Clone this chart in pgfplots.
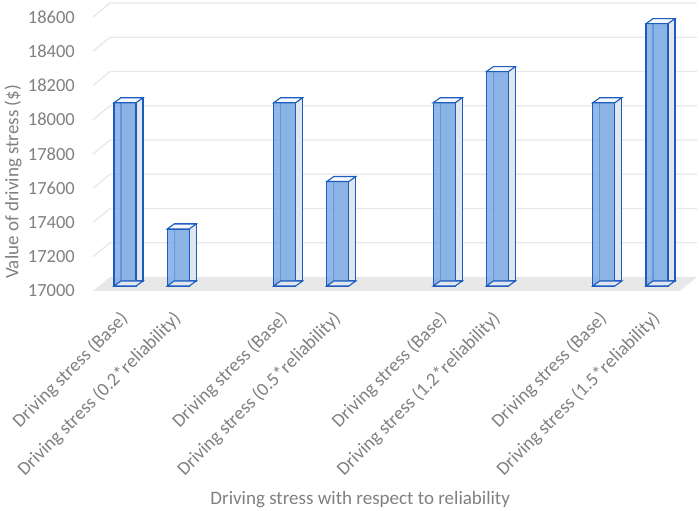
\documentclass[border=0pt]{standalone}
\usepackage{pgfplots}
\pgfplotsset{compat=1.18}
\usepackage{fontspec}
\setmainfont{Carlito}
\definecolor{txtgray}{RGB}{128,128,128}
\definecolor{gridgray}{RGB}{232,232,232}
\definecolor{floorgray}{RGB}{232,232,232}
\definecolor{barblue}{RGB}{118,166,228}
\definecolor{edgeblue}{RGB}{28,92,190}
\definecolor{sidegray}{RGB}{226,231,239}
\definecolor{topwhite}{RGB}{244,247,252}
\pgfdeclareplotmark{topface}{%
  \pgfpathmoveto{\pgfpoint{-11pt}{0pt}}%
  \pgfpathlineto{\pgfpoint{11pt}{0pt}}%
  \pgfpathlineto{\pgfpoint{18pt}{5pt}}%
  \pgfpathlineto{\pgfpoint{-4pt}{5pt}}%
  \pgfpathclose
  \pgfusepathqfillstroke}
\pgfplotstableread{
x  y
0  18070
1  17333
3  18070
4  17610
6  18070
7  18252
9  18070
10 18532
}\bars
\pgfplotstableread{
x  y
0  17000
1  17000
3  17000
4  17000
6  17000
7  17000
9  17000
10 17000
}\floor
\begin{document}
\begin{tikzpicture}
\path[use as bounding box] (0,0) rectangle (699pt,511pt);
\begin{axis}[
  at={(99pt,225pt)}, anchor=south west,
  width=587pt, height=274pt, scale only axis,
  xmin=-0.489, xmax=10.545, ymin=17000, ymax=18600,
  axis line style={draw=none}, tick style={draw=none},
  clip=false,
  scaled y ticks=false,
  ytick={17000,17200,17400,17600,17800,18000,18200,18400,18600},
  yticklabel style={font=\fontsize{18.5}{21}\selectfont, text=txtgray, inner sep=0pt, anchor=east, xshift=-24pt, yshift=-5pt},
  /pgf/number format/assume math mode=true,
  /pgf/number format/1000 sep={},
  xtick={0,1,3,4,6,7,9,10},
  xticklabels={Driving stress (Base),Driving stress (0.2*reliability),
               Driving stress (Base),Driving stress (0.5*reliability),
               Driving stress (Base),Driving stress (1.2*reliability),
               Driving stress (Base),Driving stress (1.5*reliability)},
  xticklabel style={font=\fontsize{18.8}{22}\selectfont, text=txtgray, inner sep=0pt, yshift=-30pt, xshift=0pt, rotate=45, anchor=east},
  xlabel={Driving stress with respect to reliability},
  xlabel style={font=\fontsize{19}{22}\selectfont, text=txtgray, at={(axis description cs:0.445,-0.781)}, anchor=center},
  ylabel={Value of driving stress (\$)},
  ylabel style={font=\fontsize{19}{22}\selectfont, text=txtgray, at={(axis description cs:-0.1465,0.38)}, anchor=center, rotate=0},
]
% floor
\fill[floorgray] ([shift={(-6pt,-5pt)}]axis cs:-0.489,17000) -- ([shift={(-6pt,-5pt)}]axis cs:10.545,17000)
   -- ([shift={(11pt,9pt)}]axis cs:10.545,17000) -- ([shift={(11pt,9pt)}]axis cs:-0.489,17000) -- cycle;
% gridlines
\pgfplotsinvokeforeach{17200,17400,17600,17800,18000,18200,18400,18600}{
  \draw[gridgray, line width=1.3pt] ([shift={(-6pt,-5pt)}]axis cs:-0.489,#1) -- ([shift={(11pt,9pt)}]axis cs:-0.489,#1) -- ([shift={(11pt,9pt)}]axis cs:10.545,#1);
}
% bottom faces
\addplot[only marks, mark=topface, mark options={draw=edgeblue, fill=sidegray, line width=1.1pt}] table[x=x,y=y] {\floor};
% back faces
\addplot[ybar, bar width=22pt, bar shift=7pt, yshift=5pt, draw=edgeblue, fill=sidegray, line width=1.1pt] table[x=x,y=y] {\bars};
% front faces
\addplot[ybar, bar width=22pt, draw=edgeblue, fill=barblue, fill opacity=0.8, line width=1.1pt] table[x=x,y=y] {\bars};
% top faces
\addplot[only marks, mark=topface, mark options={draw=edgeblue, fill=topwhite, line width=1.1pt}] table[x=x,y=y] {\bars};
\end{axis}
\end{tikzpicture}
\end{document}
